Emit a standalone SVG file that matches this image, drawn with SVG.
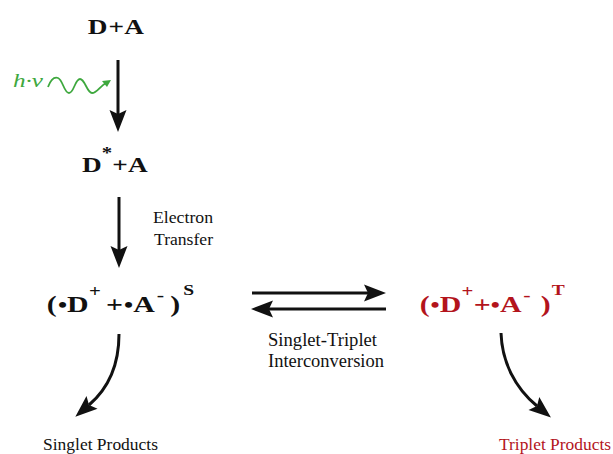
<svg xmlns="http://www.w3.org/2000/svg" width="613" height="454" viewBox="0 0 613 454">
<style>
.b{font-family:"Liberation Serif","Times New Roman",serif;font-weight:bold;fill:#111}
.r{font-family:"Liberation Serif","Times New Roman",serif;fill:#111}
.red{fill:#b3141c}
.ln{fill:none;stroke:#111;stroke-width:3}
</style>
<defs>
<marker id="ah" viewBox="-5 -10 25 20" refX="0" refY="0" markerWidth="25" markerHeight="20" markerUnits="userSpaceOnUse" orient="auto">
<path d="M18,0 L-4,-8.5 L0,0 L-4,8.5 Z" fill="#111"/>
</marker>
</defs>
<rect width="613" height="454" fill="#fff"/>

<g id="n-da">
<text class="b" font-size="21" transform="scale(1.3,1)" y="34"><tspan x="67.5">D</tspan><tspan x="83.5">+</tspan><tspan x="95.6">A</tspan></text>
</g>

<g id="n-dstar">
<text class="b" font-size="21" transform="scale(1.3,1)" y="172"><tspan x="63">D</tspan><tspan x="78.3" y="158" font-size="16">*</tspan><tspan x="86.4" y="172">+</tspan><tspan x="98.5">A</tspan></text>
</g>

<g id="n-rp-s">
<text class="b" font-size="23" transform="scale(1.3,1)" y="312"><tspan x="36">(</tspan><tspan x="44.6" font-size="20">•</tspan><tspan x="51.6">D</tspan><tspan x="68.5" y="297" font-size="16">+</tspan><tspan x="81.5" y="312">+</tspan><tspan x="95.4" font-size="20">•</tspan><tspan x="102.5">A</tspan><tspan x="120.5" y="301" font-size="17">-</tspan><tspan x="131" y="312">)</tspan><tspan x="141" y="295" font-size="15">S</tspan></text>
</g>

<g id="n-rp-t">
<text class="b red" font-size="23" transform="scale(1.3,1)" y="312"><tspan x="322.9">(</tspan><tspan x="331.2" font-size="20">•</tspan><tspan x="338.3">D</tspan><tspan x="355" y="297" font-size="16">+</tspan><tspan x="364.4" y="312">+</tspan><tspan x="377.6" font-size="20">•</tspan><tspan x="384.7">A</tspan><tspan x="402.6" y="301" font-size="17">-</tspan><tspan x="416" y="312">)</tspan><tspan x="424.5" y="295" font-size="15">T</tspan></text>
</g>

<g id="n-singlet">
<text class="r" font-size="17.5" x="43" y="450" textLength="115" lengthAdjust="spacingAndGlyphs">Singlet Products</text>
</g>

<g id="n-triplet">
<text class="r red" font-size="17.5" x="499" y="450" textLength="112" lengthAdjust="spacingAndGlyphs">Triplet Products</text>
</g>

<g id="label-hv">
<text font-family="Liberation Serif, Times New Roman, serif" font-style="italic" font-size="18" fill="#3ea83e" x="13" y="87" textLength="30" lengthAdjust="spacingAndGlyphs">h·v</text>
<path d="M48,87 C51,79 55,77 58,78 C63,80 64,93 69,93 C74,93 75,79 80,79 C85,79 87,93 92,93 C97,93 100,86 106,83" fill="none" stroke="#3ea83e" stroke-width="1.8"/>
<path d="M111,80 L102,81 L107,87 Z" fill="#3ea83e"/>
</g>

<g id="label-et">
<text class="r" font-size="16" x="153" y="223" textLength="60" lengthAdjust="spacingAndGlyphs">Electron</text>
<text class="r" font-size="16" x="154" y="245" textLength="59" lengthAdjust="spacingAndGlyphs">Transfer</text>
</g>

<g id="label-sti">
<text class="r" font-size="18.5" x="268" y="346" textLength="109" lengthAdjust="spacingAndGlyphs">Singlet-Triplet</text>
<text class="r" font-size="18.5" x="268" y="367" textLength="116" lengthAdjust="spacingAndGlyphs">Interconversion</text>
</g>

<g id="connectors">
<path class="ln" d="M118,60 L118,114" marker-end="url(#ah)"/>
<path class="ln" d="M119,197 L119,250" marker-end="url(#ah)"/>
<path class="ln" d="M252,293 L368,293" marker-end="url(#ah)"/>
<path class="ln" d="M386,309 L269,309" marker-end="url(#ah)"/>
<path class="ln" d="M119,334 C119,362 110,387 89,405" marker-end="url(#ah)"/>
<path class="ln" d="M501,333 C502,362 515,388 537,406" marker-end="url(#ah)"/>
</g>
</svg>
